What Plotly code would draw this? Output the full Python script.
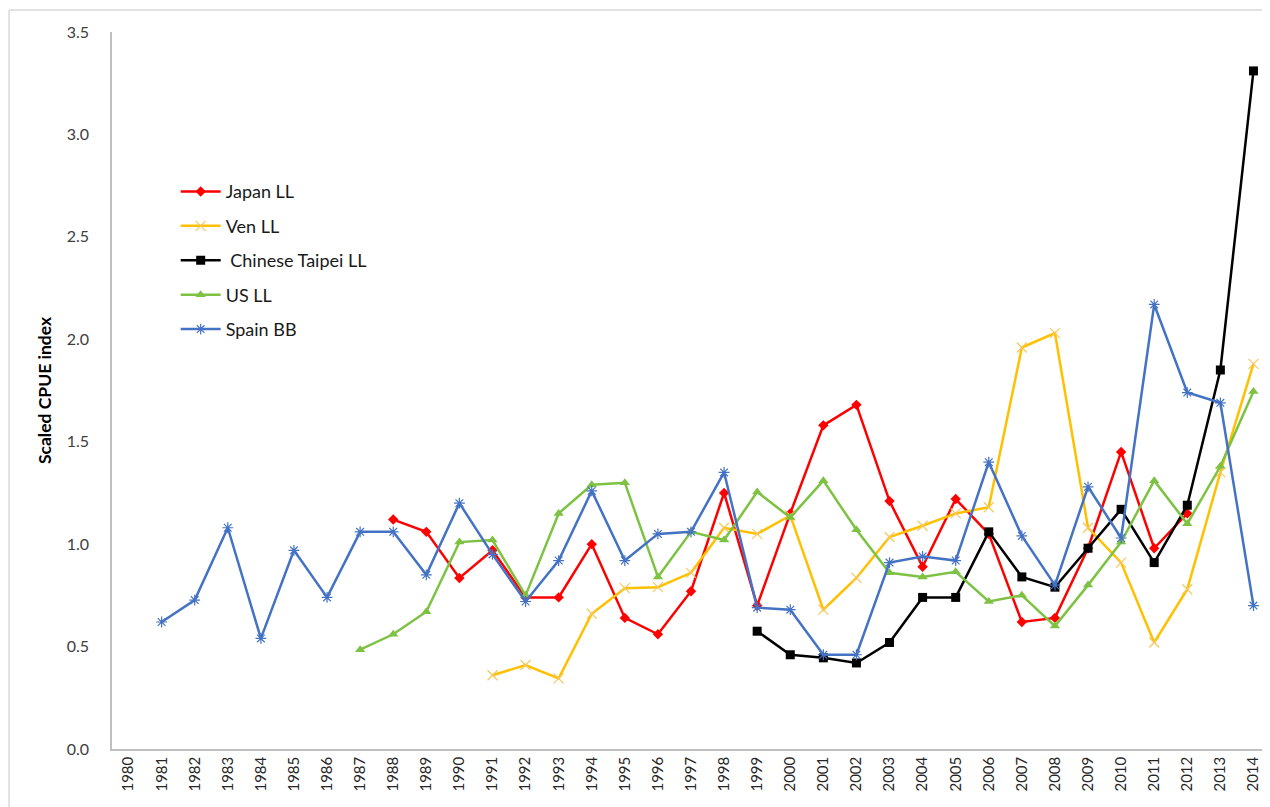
import plotly.graph_objects as go

years = [str(y) for y in range(1980, 2015)]

japan_years = [str(y) for y in range(1988, 2013)]
japan_ll = [1.12, 1.06, 0.835, 0.97, 0.74, 0.74, 1.00, 0.64, 0.56, 0.77, 1.25, 0.70,
            1.15, 1.58, 1.68, 1.21, 0.89, 1.22, 1.05, 0.62, 0.64, 0.98, 1.45, 0.98, 1.15]

ven_years = [str(y) for y in range(1991, 2015)]
ven_ll = [0.36, 0.41, 0.345, 0.66, 0.785, 0.79, 0.86, 1.08, 1.05, 1.14, 0.68, 0.835,
          1.035, 1.09, 1.15, 1.18, 1.96, 2.03, 1.08, 0.91, 0.52, 0.78, 1.35, 1.88]

taipei_years = [str(y) for y in range(1999, 2015)]
taipei_ll = [0.575, 0.46, 0.445, 0.42, 0.52, 0.74, 0.74, 1.06, 0.84, 0.79, 0.98, 1.17,
             0.91, 1.19, 1.85, 3.31]

us_years = [str(y) for y in range(1987, 2015)]
us_ll = [0.485, 0.56, 0.67, 1.01, 1.02, 0.75, 1.15, 1.29, 1.30, 0.84, 1.06, 1.02, 1.255,
         1.13, 1.31, 1.07, 0.86, 0.84, 0.865, 0.72, 0.75, 0.60, 0.80, 1.01, 1.31, 1.10,
         1.38, 1.745]

spain_years = [str(y) for y in range(1981, 2015)]
spain_bb = [0.62, 0.727, 1.08, 0.54, 0.97, 0.74, 1.06, 1.06, 0.85, 1.20, 0.95, 0.72,
            0.92, 1.26, 0.92, 1.05, 1.06, 1.35, 0.69, 0.68, 0.46, 0.46, 0.91, 0.94, 0.92,
            1.40, 1.04, 0.80, 1.28, 1.03, 2.17, 1.74, 1.69, 0.70]

FONT = "Lato"

fig = go.Figure()
series = [
    ("Japan LL", japan_years, japan_ll, "#FF0000", dict(symbol="diamond", size=8, color="#FF0000")),
    ("Ven LL", ven_years, ven_ll, "#FFC000", dict(symbol="x-thin", size=10, color="#FFC000",
                                                 line=dict(color="#F5C860", width=1.2))),
    (" Chinese Taipei LL", taipei_years, taipei_ll, "#000000", dict(symbol="square", size=9, color="#000000")),
    ("US LL", us_years, us_ll, "#7DC243", dict(symbol="triangle-up", size=9, color="#7DC243")),
    ("Spain BB", spain_years, spain_bb, "#4472C4", dict(symbol="asterisk-open", size=9,
                                                       line=dict(color="#7C9BD6", width=1.2))),
]
for i, (name, xs, ys, col, mk) in enumerate(series):
    fig.add_trace(go.Scatter(
        x=xs, y=ys, name=name, mode="lines+markers",
        line=dict(color=col, width=2.5),
        marker=mk, legendgroup=f"g{i}",
    ))

fig.update_layout(
    width=1262, height=799,
    margin=dict(l=104, r=0, t=24, b=58),
    paper_bgcolor="white", plot_bgcolor="white",
    font=dict(family=FONT, size=15, color="#000000"),
    showlegend=True,
    legend=dict(x=0.055, y=0.803, xanchor="left", yanchor="top",
                font=dict(family=FONT, size=18, color="#1A1A1A"),
                tracegroupgap=8, itemwidth=40, bgcolor="rgba(0,0,0,0)"),
    shapes=[
        dict(type="line", xref="paper", yref="paper", x0=-0.0889, x1=1.0, y0=1.0307, y1=1.0307,
             line=dict(color="#D9D9D9", width=1.5)),
        dict(type="line", xref="paper", yref="paper", x0=-0.0889, x1=-0.0889, y0=1.0307, y1=-0.09,
             line=dict(color="#D9D9D9", width=1.5)),
    ],
)

fig.update_xaxes(
    type="category", categoryorder="array", categoryarray=years,
    range=[-0.5, len(years) - 0.5],
    showline=True, linecolor="#BFBFBF", linewidth=1.5,
    showgrid=False, zeroline=False, ticks="",
    tickangle=-90, tickfont=dict(family=FONT, size=15, color="#262626"),
)
fig.update_yaxes(
    range=[0, 3.5], dtick=0.5, tickformat=".1f",
    showline=True, linecolor="#BFBFBF", linewidth=1.5,
    showgrid=False, zeroline=False, ticks="",
    ticklabelstandoff=18,
    tickfont=dict(family=FONT, size=16, color="#404040"),
    title=dict(text="<b>Scaled CPUE index</b>", font=dict(family=FONT, size=17.5, color="#000000"),
               standoff=11),
)

fig.write_html("out.html")
